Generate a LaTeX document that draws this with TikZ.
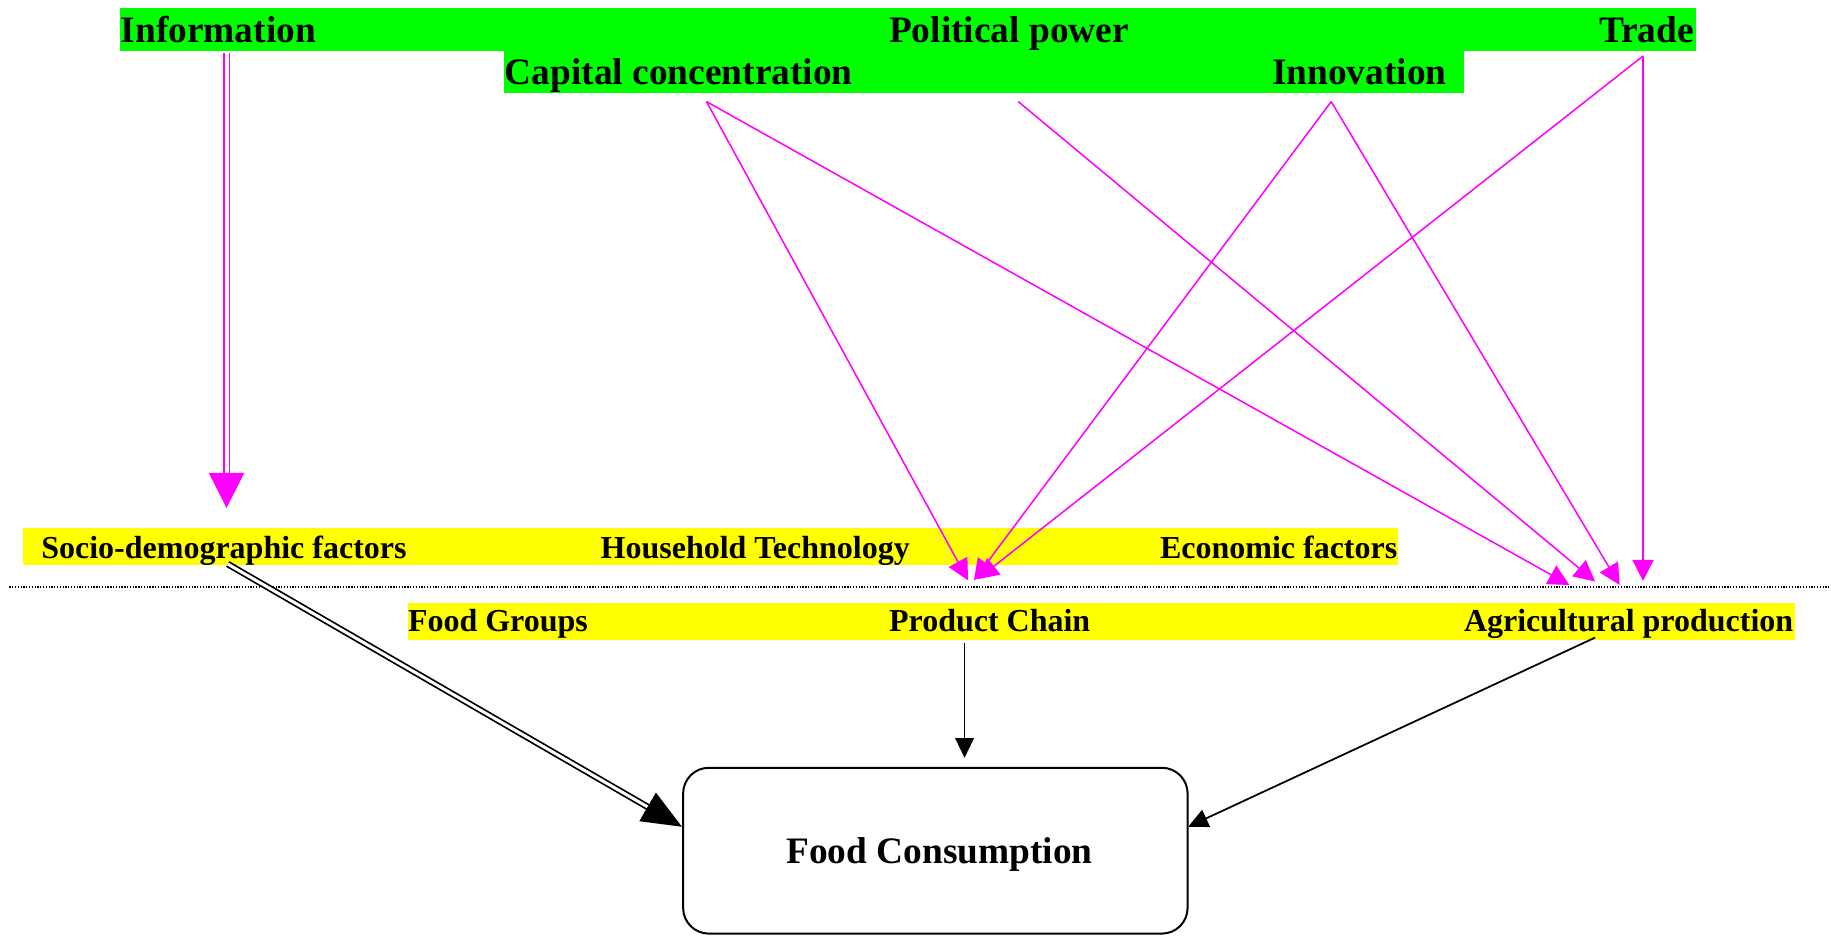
\documentclass[tikz,border=0pt]{standalone}
\usepackage{fontspec}
\setmainfont{Liberation Serif}
\usetikzlibrary{arrows.meta}
\definecolor{bandgreen}{RGB}{0,255,0}
\definecolor{bandyellow}{RGB}{255,255,0}
\definecolor{link}{RGB}{255,0,255}
\begin{document}
\begin{tikzpicture}[x=0.5pt,y=-0.5pt,
  big/.style={font=\fontsize{16}{18}\selectfont\bfseries, inner sep=0pt},
  small/.style={font=\fontsize{13.7}{16}\selectfont\bfseries, inner sep=0pt},
  flow/.style={draw=link, line width=0.65pt, -{Triangle[length=9pt,width=9pt]}, fill=link},
  feed/.style={draw=black, line width=0.75pt, -{Triangle[length=8.5pt,width=8pt]}},
]
\useasboundingbox (0,0) rectangle (1568,802);

% coloured bands behind the labels
\fill[bandgreen] (103,7) rectangle (1452,43.5);
\fill[bandgreen] (432,43) rectangle (1254,80);
\fill[bandyellow] (20,452) rectangle (1197,484);
\fill[bandyellow] (349,516) rectangle (1537,548);

% separator
\draw[line width=0.8pt, dash pattern=on 0.55pt off 0.65pt] (8,503) -- (1568,503);

% driver labels
\node[big, anchor=base west] (info) at (103,36) {Information};
\node[big, anchor=base west] (pol)  at (761,36) {Political power};
\node[big, anchor=base east] (trade) at (1451,36) {Trade};
\node[big, anchor=base west] (cap)  at (432,72.5) {Capital concentration};
\node[big, anchor=base west] (inno) at (1089,72.5) {Innovation};

% factor labels
\node[small, anchor=base west] (socio) at (35,478) {Socio-demographic factors};
\node[small, anchor=base west] (house) at (514,478) {Household Technology};
\node[small, anchor=base west] (econ)  at (993,478) {Economic factors};
\node[small, anchor=base west] (fgrp)  at (349,541) {Food Groups};
\node[small, anchor=base west] (chain) at (761,541) {Product Chain};
\node[small, anchor=base east] (agri)  at (1536,541) {Agricultural production};

% outcome
\node[draw, line width=0.85pt, rounded corners=11pt, minimum width=216pt,
      minimum height=71pt] (fc) at (801,728.5) {};
\node[inner sep=0pt, font=\fontsize{16}{18}\selectfont\bfseries, anchor=base]
      (fclabel) at (804.5,739.5) {Food Consumption};

% connector end points
\coordinate (infoS) at (194,45);
\coordinate (infoT) at (194,435);
\coordinate (capS) at (605,87);
\coordinate (polS) at (872,87);
\coordinate (innoS) at (1140,87);
\coordinate (tradeS) at (1407,48);
\coordinate (hhA) at (829,497);
\coordinate (hhB) at (834,497);
\coordinate (hhC) at (837,496);
\coordinate (agA) at (1344,501);
\coordinate (agB) at (1366,498);
\coordinate (agC) at (1387,501);
\coordinate (agD) at (1407,497.5);
\coordinate (socS) at (195,483);
\coordinate (socT) at (584,708);
\coordinate (chainS) at (826,551);
\coordinate (chainT) at (826,649);
\coordinate (agriS) at (1366,546);
\coordinate (agriT) at (1017.5,708);

% drivers acting on the factors
\draw[draw=link, double, double distance=1.7pt, line width=0.8pt,
      -{Triangle[length=15pt,width=15pt]}] (infoS) -- (infoT);
\draw[flow] (capS) -- (hhA);
\draw[flow] (capS) -- (agA);
\draw[flow] (polS) -- (agB);
\draw[flow] (innoS) -- (hhB);
\draw[flow] (innoS) -- (agC);
\draw[flow] (tradeS) -- (agD);
\draw[flow] (tradeS) -- (hhC);

% factors acting on consumption
\draw[draw=black, double, double distance=1.3pt, line width=0.75pt,
      -{Triangle[length=17pt,width=14pt]}] (socS) -- (socT);
\draw[feed] (chainS) -- (chainT);
\draw[feed] (agriS) -- (agriT);
\end{tikzpicture}
\end{document}
